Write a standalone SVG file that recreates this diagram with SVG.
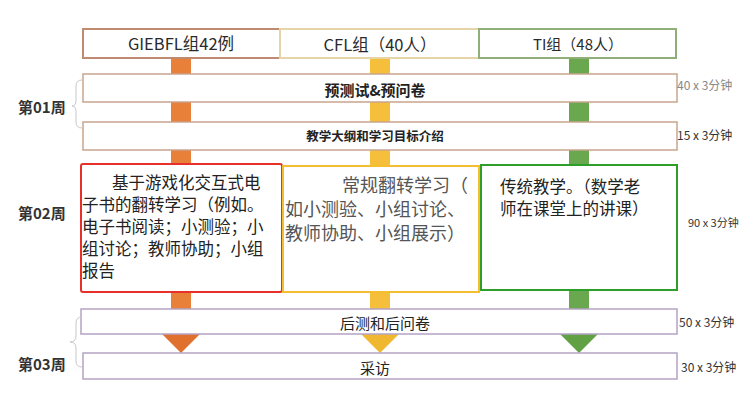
<svg xmlns="http://www.w3.org/2000/svg" width="755" height="400" viewBox="0 0 755 400">
<style>
text{font-family:"Noto Sans CJK SC","Noto Sans",sans-serif;fill:#222;dominant-baseline:central}
.row{fill:#fff;stroke-width:1.5}
.brown{stroke:#c9a48e}
.purple{stroke:#b4a2c4}
.wk{font-size:15px;font-weight:bold;fill:#333}
.dur{font-size:12px;fill:#333}
.brk{fill:none;stroke:#c8c8cc;stroke-width:1}
.hdr{font-size:16.5px;fill:#2a2a2a;text-anchor:middle}
</style>
<rect width="755" height="400" fill="#fff"/>
<g id="connectors">
<rect x="171" y="58" width="20" height="280" fill="#e8803a"/>
<rect x="370" y="58" width="20" height="280" fill="#f5bf3c"/>
<rect x="569" y="58" width="20" height="280" fill="#6aa84f"/>
<polygon points="162,334 200,334 181,353" fill="#e0702e"/>
<polygon points="361,334 399,334 380,353" fill="#f0b830"/>
<polygon points="560,334 598,334 579,353" fill="#62a044"/>
</g>
<g id="hdr-giebfl"><rect x="83" y="29" width="197" height="29" fill="#fff" stroke="#c08a70" stroke-width="2"/><text class="hdr" x="181" y="43">GIEBFL组42例</text></g>
<g id="hdr-cfl"><rect x="280" y="29" width="199" height="29" fill="#fff" stroke="#e6d4a8" stroke-width="2"/><text class="hdr" x="380" y="44">CFL组（40人）</text></g>
<g id="hdr-ti"><rect x="479" y="29" width="197" height="29" fill="#fff" stroke="#8fae78" stroke-width="2"/><text class="hdr" x="578" y="43" style="font-size:15px">TI组（48人）</text></g>
<g id="row-pretest"><rect class="row brown" x="83" y="74" width="594" height="28"/><text x="375" y="89" text-anchor="middle" style="font-size:15px;font-weight:bold">预测试&amp;预问卷</text></g>
<g id="row-syllabus"><rect class="row brown" x="83" y="122" width="594" height="28"/><text x="375" y="135" text-anchor="middle" style="font-size:12.5px;font-weight:bold">教学大纲和学习目标介绍</text></g>
<g id="box-giebfl"><rect x="81" y="164" width="201" height="128" rx="2" fill="#fff" stroke="#e8302a" stroke-width="2"/>
<text style="font-size:16.5px"><tspan x="112" y="182">基于游戏化交互式电</tspan><tspan x="82" y="204">子书的翻转学习（例如。</tspan><tspan x="82" y="226">电子书阅读；小测验；小</tspan><tspan x="82" y="248">组讨论；教师协助；小组</tspan><tspan x="82" y="270">报告</tspan></text></g>
<g id="box-cfl"><rect x="283" y="166" width="196" height="126" fill="#fff" stroke="#f5be30" stroke-width="2"/>
<text style="font-size:18px;fill:#555"><tspan x="342" y="184">常规翻转学习（</tspan><tspan x="285" y="208">如小测验、小组讨论、</tspan><tspan x="285" y="232">教师协助、小组展示）</tspan></text></g>
<g id="box-ti"><rect x="481" y="165" width="196" height="125" fill="#fff" stroke="#2e9e2a" stroke-width="2"/>
<text style="font-size:16.5px"><tspan x="500" y="186">传统教学。（数学老</tspan><tspan x="500" y="208">师在课堂上的讲课）</tspan></text></g>
<g id="row-posttest"><rect class="row purple" x="81" y="309" width="596" height="25"/><text x="385" y="322" text-anchor="middle" style="font-size:15px">后测和后问卷</text></g>
<g id="row-interview"><rect class="row purple" x="83" y="353" width="594" height="26"/><text x="375" y="367" text-anchor="middle" style="font-size:15px">采访</text></g>
<g id="week-labels">
<text class="wk" x="18" y="106">第01周</text>
<text class="wk" x="18" y="212">第02周</text>
<text class="wk" x="18" y="363">第03周</text>
<path class="brk" d="M82,80 Q76,80 76,86 V100 Q76,106 72,106 Q76,106 76,112 V122 Q76,128 82,128"/>
<path class="brk" d="M82,317 Q76,317 76,323 V336 Q76,342 70,342 Q76,342 76,348 V361 Q76,367 82,367"/>
</g>
<g id="durations">
<text class="dur" x="677" y="84" style="fill:#888">40 x 3分钟</text>
<text class="dur" x="677" y="134">15 x 3分钟</text>
<text class="dur" x="688" y="222" style="font-size:11px">90 x 3分钟</text>
<text class="dur" x="679" y="321">50 x 3分钟</text>
<text class="dur" x="681" y="366">30 x 3分钟</text>
</g>
</svg>
